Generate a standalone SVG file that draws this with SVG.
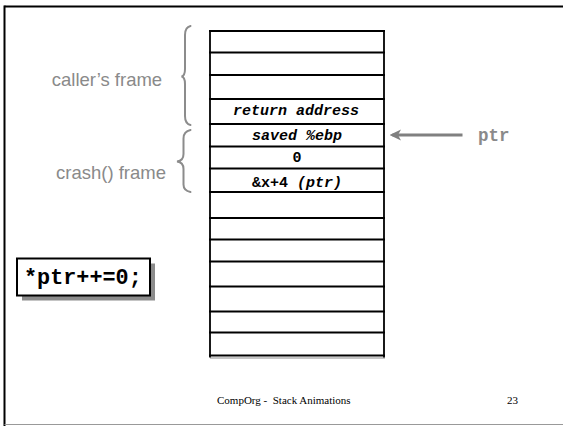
<svg xmlns="http://www.w3.org/2000/svg" width="563" height="426" viewBox="0 0 563 426">
<style>
.frame-border{stroke:#000;stroke-width:2;fill:none}
.cellline{stroke:#000;stroke-width:2.2}
.side{stroke:#000;stroke-width:1.8}
.cell{font-family:"Liberation Mono","Courier New",monospace;font-weight:bold;font-size:15px;fill:#000;text-anchor:middle}
.it{font-style:italic}
.brace{fill:none;stroke:#8c8c8c;stroke-width:2;stroke-linecap:round}
.lbl{font-family:"Liberation Sans",Arial,sans-serif;font-size:18.5px;fill:#8a8a8a;text-anchor:middle}
.foot{font-family:"Liberation Serif","Times New Roman",serif;font-size:11px;fill:#000}
</style>
<defs>
<marker id="ah" viewBox="0 0 12 12" refX="9" refY="6" markerWidth="12" markerHeight="12" orient="auto" markerUnits="userSpaceOnUse">
<path d="M12,6 L0.5,0.5 L3.5,6 L0.5,11.5 Z" fill="#808080"/>
</marker>
</defs>
<rect width="563" height="426" fill="#fff"/>
<g id="slide-border">
<line x1="4.5" y1="6.5" x2="563" y2="6.5" class="frame-border"/>
<line x1="4.5" y1="5.5" x2="4.5" y2="426" class="frame-border"/>
<line x1="4.5" y1="424.5" x2="563" y2="424.5" stroke="#999" stroke-width="1.2"/>
</g>
<g id="stack">
<rect x="210" y="31" width="174" height="327" fill="#fff" stroke="none"/>
<line x1="210" y1="358" x2="385" y2="358" stroke="#8c8c8c" stroke-width="1.2"/>
<line x1="210" y1="30" x2="210" y2="357.5" class="side"/>
<line x1="384" y1="30" x2="384" y2="357.5" class="side"/>
<line x1="209" y1="31" x2="385" y2="31" class="cellline" stroke-width="2"/>
<g class="rows">
<line x1="209" y1="52.5" x2="385" y2="52.5" class="cellline"/>
<line x1="209" y1="75" x2="385" y2="75" class="cellline"/>
<line x1="209" y1="99" x2="385" y2="99" class="cellline"/>
<line x1="209" y1="124" x2="385" y2="124" class="cellline"/>
<line x1="209" y1="146.5" x2="385" y2="146.5" class="cellline"/>
<line x1="209" y1="168.5" x2="385" y2="168.5" class="cellline"/>
<line x1="209" y1="192" x2="385" y2="192" class="cellline"/>
<line x1="209" y1="218" x2="385" y2="218" class="cellline"/>
<line x1="209" y1="239.5" x2="385" y2="239.5" class="cellline"/>
<line x1="209" y1="261.5" x2="385" y2="261.5" class="cellline"/>
<line x1="209" y1="286.5" x2="385" y2="286.5" class="cellline"/>
<line x1="209" y1="311.5" x2="385" y2="311.5" class="cellline"/>
<line x1="209" y1="332.5" x2="385" y2="332.5" class="cellline"/>
<line x1="209" y1="355.5" x2="385" y2="355.5" class="cellline" stroke-width="2.6"/>
</g>
</g>
<g id="cell-return-address"><text x="296" y="114.5" class="cell it">return address</text></g>
<g id="cell-saved-ebp"><text x="297" y="139.5" class="cell it">saved %ebp</text></g>
<g id="cell-zero"><text x="297" y="162" class="cell">0</text></g>
<g id="cell-ptr"><text x="297" y="186.5" class="cell">&amp;x+4 <tspan class="it">(ptr)</tspan></text></g>
<g id="callers-frame">
<path class="brace" d="M190.5,26 C186,27 185,30 185,35 L185,69 C185,73.5 184,76 181.5,76.5 C184,77 185,79.5 185,84 L185,116 C185,121 186,124 190.5,125"/>
<text x="107" y="86" class="lbl">caller’s frame</text>
</g>
<g id="crash-frame">
<path class="brace" d="M190.5,130 C185.5,131 183.5,134 183.5,138.5 L183.5,154 C183.5,158.5 181.5,161 177,161.5 C181.5,162 183.5,164.5 183.5,169 L183.5,184.5 C183.5,189 185.5,191 190.5,192"/>
<text x="111" y="179" class="lbl">crash() frame</text>
</g>
<g id="ptr-label">
<text x="478" y="141" font-family="'Liberation Mono','Courier New',monospace" font-weight="bold" font-size="17.5" fill="#8a8a8a">ptr</text>
</g>
<g id="code-box">
<rect x="22" y="263.5" width="133" height="37" fill="#8c8c8c"/>
<rect x="17" y="258.5" width="133" height="37" fill="#fff" stroke="#000" stroke-width="2"/>
<text x="24" y="283.5" font-family="'Liberation Mono','Courier New',monospace" font-weight="bold" font-size="21.8" fill="#000">*ptr++=0;</text>
</g>
<g id="connectors">
<path d="M462.5,135 L392.5,135" fill="none" stroke="#808080" stroke-width="2.8" marker-end="url(#ah)"/>
</g>
<g id="footer">
<text x="217" y="403.5" class="foot" xml:space="preserve">CompOrg -  Stack Animations</text>
<text x="507" y="403.5" class="foot">23</text>
</g>
</svg>
